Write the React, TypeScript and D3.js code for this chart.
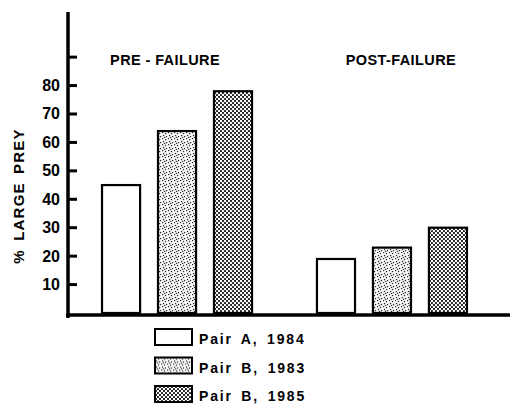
import React, { useEffect, useRef } from 'react';
import * as d3 from 'd3';

const groups = ['PRE - FAILURE', 'POST-FAILURE'];
const series = ['Pair A, 1984', 'Pair B, 1983', 'Pair B, 1985'];
const preValues = [45, 64, 78];
const postValues = [19, 23, 30];
const yTicks = [10, 20, 30, 40, 50, 60, 70, 80, 90];
const yLabels = [10, 20, 30, 40, 50, 60, 70, 80];

const fills = ['#fff', 'url(#stipple)', 'url(#check)'];
const titleShift = [-12, 9];
const FONT = '"Liberation Sans", Arial, sans-serif';

export default function App() {
  const ref = useRef<SVGSVGElement>(null);

  useEffect(() => {
    const svg = d3.select(ref.current);
    svg.selectAll('*').remove();

    const defs = svg.append('defs');
    // light stipple
    const p1 = defs.append('pattern').attr('id', 'stipple').attr('patternUnits', 'userSpaceOnUse')
      .attr('width', 6).attr('height', 6);
    p1.append('rect').attr('width', 6).attr('height', 6).attr('fill', '#fff');
    [[0.5, 0.5], [3.5, 1.5], [1.5, 3.5], [4.5, 4.5], [2.5, 5.5]].forEach(([cx, cy]) =>
      p1.append('rect').attr('x', cx - 0.6).attr('y', cy - 0.6).attr('width', 1.3).attr('height', 1.3).attr('fill', '#222'));
    // dense checker dots
    const p2 = defs.append('pattern').attr('id', 'check').attr('patternUnits', 'userSpaceOnUse')
      .attr('width', 4).attr('height', 4);
    p2.append('rect').attr('width', 4).attr('height', 4).attr('fill', '#fff');
    p2.append('circle').attr('cx', 1).attr('cy', 1).attr('r', 1.1).attr('fill', '#111');
    p2.append('circle').attr('cx', 3).attr('cy', 3).attr('r', 1.1).attr('fill', '#111');

    const x0 = d3.scaleBand().domain(groups).range([70, 499]).paddingInner(0.302).paddingOuter(0.149);
    const x1 = d3.scaleBand().domain(series).range([0, x0.bandwidth()]).paddingInner(0.32);
    const y = d3.scaleLinear().domain([0, 100]).range([313, 28.7]);

    const data = groups.map((g, gi) => ({ g, gi, vals: gi === 0 ? preValues : postValues }));

    // bars
    const gGroups = svg.append('g').selectAll('g').data(data).enter().append('g')
      .attr('transform', d => `translate(${x0(d.g)},0)`);
    gGroups.selectAll('rect')
      .data(d => d.vals.map((v, i) => ({ v, s: series[i], i })))
      .enter().append('rect')
      .attr('x', d => x1(d.s)!)
      .attr('y', d => y(d.v))
      .attr('width', x1.bandwidth())
      .attr('height', d => y(0) - y(d.v))
      .attr('fill', d => fills[d.i])
      .attr('stroke', '#000')
      .attr('stroke-width', 2.2);

    // group titles
    gGroups.append('text')
      .attr('x', d => x0.bandwidth() / 2 + titleShift[d.gi])
      .attr('y', 65)
      .attr('text-anchor', 'middle')
      .attr('font-family', FONT).attr('font-weight', 'bold').attr('font-size', 14.5)
      .attr('letter-spacing', 0.4)
      .text(d => d.g);

    // y axis
    const ax = 68;
    svg.append('line').attr('x1', ax).attr('x2', ax).attr('y1', 12).attr('y2', 318)
      .attr('stroke', '#000').attr('stroke-width', 3.5);
    svg.append('g').selectAll('line').data(yTicks).enter().append('line')
      .attr('x1', ax).attr('x2', ax + 9).attr('y1', d => y(d)).attr('y2', d => y(d))
      .attr('stroke', '#000').attr('stroke-width', 3);
    svg.append('g').selectAll('text').data(yLabels).enter().append('text')
      .attr('x', ax - 8).attr('y', d => y(d) + 5.5)
      .attr('text-anchor', 'end')
      .attr('font-family', FONT).attr('font-weight', 'bold').attr('font-size', 16)
      .text(d => d);

    // baseline
    svg.append('line').attr('x1', ax - 2).attr('x2', 510).attr('y1', 315).attr('y2', 315)
      .attr('stroke', '#000').attr('stroke-width', 3.5);

    // y title
    svg.append('text')
      .attr('transform', 'translate(24,196) rotate(-90)')
      .attr('text-anchor', 'middle')
      .attr('font-family', FONT).attr('font-weight', 'bold').attr('font-size', 15)
      .attr('letter-spacing', 1.2)
      .attr('word-spacing', 3)
      .text('% LARGE PREY');

    // legend
    const leg = svg.append('g').selectAll('g').data(series).enter().append('g')
      .attr('transform', (d, i) => `translate(155,${329 + i * 28.5})`);
    leg.append('rect').attr('width', 37).attr('height', 16)
      .attr('fill', (d, i) => fills[i]).attr('stroke', '#000').attr('stroke-width', 2);
    leg.append('text').attr('x', 44).attr('y', 15)
      .attr('font-family', FONT).attr('font-weight', 'bold').attr('font-size', 14)
      .attr('letter-spacing', 1.8)
      .attr('word-spacing', 3)
      .text(d => d);
  }, []);

  return (
    <svg ref={ref} width={510} height={407}
      style={{ position: 'absolute', left: 0, top: 0, background: '#fff' }} />
  );
}
